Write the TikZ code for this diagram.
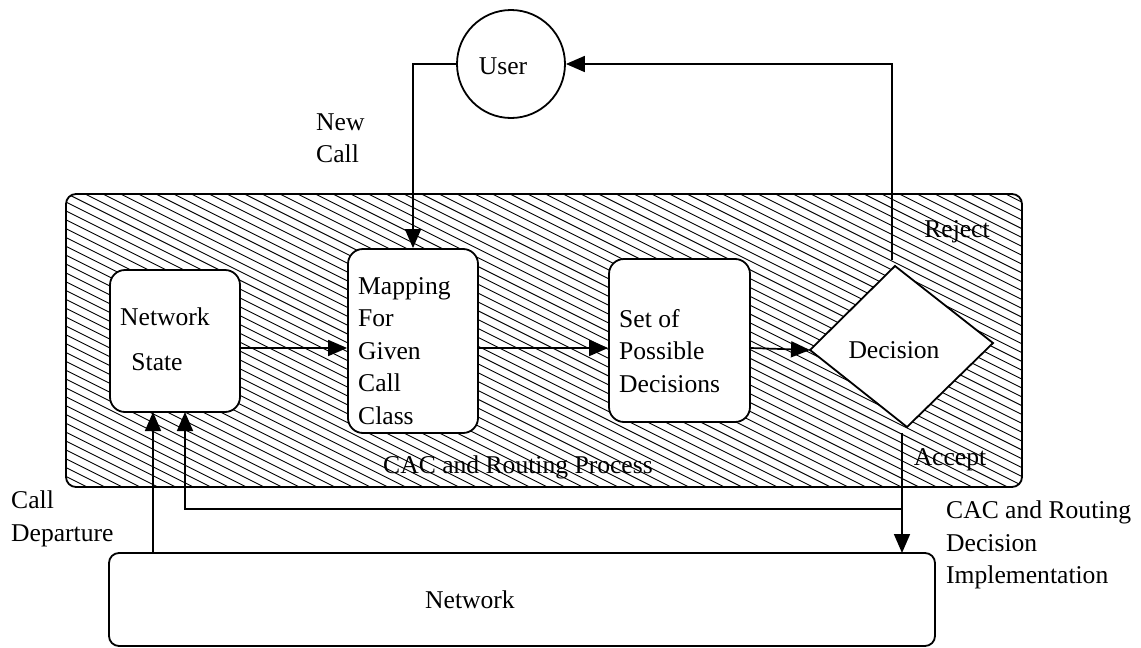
\documentclass[tikz,border=0pt]{standalone}
\usepackage{fontspec}
\setmainfont{Liberation Serif}
\usetikzlibrary{arrows.meta}
\begin{document}
\begin{tikzpicture}[x=1pt,y=-1pt,
  every node/.style={font=\fontsize{25.6}{32.5}\selectfont, inner sep=0pt},
  box/.style={draw, line width=1.8pt, fill=white, rounded corners=15pt},
  lbl/.style={align=left},
  conn/.style={line width=1.7pt},
  arr/.style={conn, -{Triangle[length=19pt,width=16pt]}},
  hatch/.style={line width=0.9pt}]
\useasboundingbox (0,0) rectangle (1141,648);

% process area with diagonal hatching
\path[fill=white] (66,194) rectangle (1022,487);
\begin{scope}
  \clip[rounded corners=10pt] (66,194) rectangle (1022,487);
  \foreach \i in {0,...,92}
    \draw[hatch] ({-560+\i*17.7},190) -- ++(640,320);
\end{scope}
\draw[line width=1.8pt, rounded corners=10pt] (66,194) rectangle (1022,487);

% boxes
\node[box, minimum width=130pt, minimum height=142pt] (nstate) at (175,341) {};
\node (tnet) at (165,317) {Network};
\node (tstate) at (157,362) {State};

\node[box, minimum width=130pt, minimum height=184pt] (map) at (413,341) {};
\node[lbl, anchor=west] (tmap) at (358,351) {Mapping\\For\\Given\\Call\\Class};

\node[box, minimum width=141pt, minimum height=163pt] (set) at (679.5,340.5) {};
\node[lbl, anchor=west] (tset) at (619,351) {Set of\\Possible\\Decisions};

% decision diamond
\coordinate (dl) at (810,350);
\coordinate (dt) at (895,266);
\coordinate (dr) at (993,343);
\coordinate (db) at (907,427);
\draw[line width=1.8pt, fill=white] (dl) -- (dt) -- (dr) -- (db) -- cycle;
\node (tdec) at (894,350) {Decision};

% user and network
\node[draw, circle, line width=1.8pt, minimum size=108pt, fill=white] (user) at (511,64) {};
\node (tuser) at (503,66) {User};
\node[box, rounded corners=10pt, minimum width=826pt, minimum height=93pt] (net) at (522,599.5) {};
\node (tnetw) at (470,600) {Network};

% labels
\node[lbl, anchor=west] (lnew) at (316,138) {New\\Call};
\node (lrej) at (957,232) {Reject};
\node (lacc) at (950,460) {Accept};
\node (lproc) at (518,467) {CAC and Routing Process};
\node[lbl, anchor=west] (ldep) at (11,519) {Call\\Departure};
\node[lbl, anchor=west] (limp) at (946,545) {CAC and Routing\\Decision\\Implementation};

% connectors
\coordinate (row) at (0,348);
\draw[arr] (nstate.east |- row) -- (map.west |- row);
\draw[arr] (map.east |- row) -- (set.west |- row);
\draw[arr] (set.east |- row) -- (dl);

\coordinate (newc) at (413,64);
\draw[arr] (user.west) -- (newc) -- (map.north);

\coordinate (rej) at (892,260);
\coordinate (rejtop) at (892,64);
\draw[arr] (rej) -- (rejtop) -- (user.east);

\coordinate (acc) at (902,433);
\coordinate (accnet) at (902,553);
\draw[arr] (acc) -- (accnet);

\coordinate (fb) at (902,509);
\coordinate (fbl) at (185,509);
\coordinate (fbs) at (185,412);
\draw[arr] (fb) -- (fbl) -- (fbs);

\coordinate (dep) at (153,553);
\coordinate (deps) at (153,412);
\draw[arr] (dep) -- (deps);
\end{tikzpicture}
\end{document}
